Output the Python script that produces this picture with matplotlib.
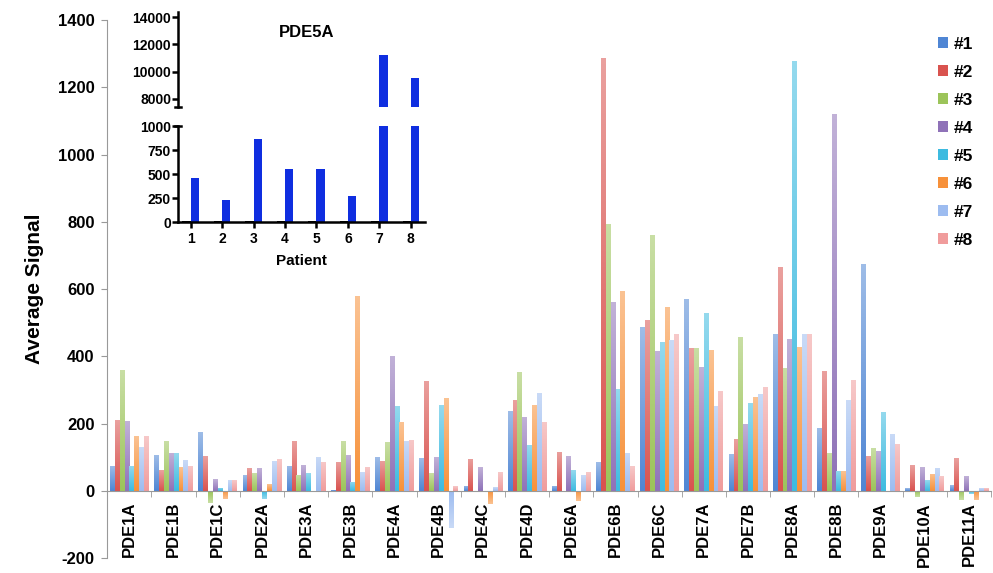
import matplotlib
matplotlib.use('Agg')
import matplotlib.pyplot as plt
import matplotlib.colors as mcolors
import numpy as np

plt.rcParams['font.family'] = ['Liberation Sans', 'DejaVu Sans']
plt.rcParams['font.weight'] = 'bold'
plt.rcParams['axes.unicode_minus'] = False

genes = ['PDE1A', 'PDE1B', 'PDE1C', 'PDE2A', 'PDE3A', 'PDE3B', 'PDE4A', 'PDE4B', 'PDE4C', 'PDE4D',
         'PDE6A', 'PDE6B', 'PDE6C', 'PDE7A', 'PDE7B', 'PDE8A', 'PDE8B', 'PDE9A', 'PDE10A', 'PDE11A']
patients = ['#1', '#2', '#3', '#4', '#5', '#6', '#7', '#8']

# one row per patient, one value per gene
p1 = [75, 106, 175, 46, 75, 3, 101, 97, 15, 236, 15, 86, 487, 571, 109, 465, 187, 675, 8, 16]
p2 = [210, 62, 104, 68, 149, 87, 90, 328, 96, 270, 117, 1286, 508, 424, 154, 665, 357, 105, 77, 97]
p3 = [358, 147, -35, 53, 48, 148, 144, 52, 1, 352, 1, 794, 761, 424, 458, 365, 112, 127, -17, -27]
p4 = [208, 114, 34, 68, 77, 108, 402, 101, 71, 221, 104, 562, 415, 367, 200, 452, 1122, 119, 71, 43]
p5 = [75, 114, 9, -23, 52, 27, 253, 255, -3, 135, 62, 304, 444, 528, 261, 1279, 60, 233, 32, -8]
p6 = [162, 71, -24, 20, -2, 578, 205, 276, -40, 256, -30, 594, 546, 419, 278, 428, 58, -2, 51, -27]
p7 = [130, 91, 31, 89, 102, 55, 149, -110, 11, 291, 46, 112, 450, 252, 289, 467, 270, 170, 69, 8]
p8 = [162, 75, 31, 94, 87, 72, 152, 13, 56, 206, 56, 74, 466, 298, 308, 467, 330, 139, 43, 8]
signal = [p1, p2, p3, p4, p5, p6, p7, p8]

colors = ['#4f86d4', '#d9534f', '#9cc45a', '#8f72b8', '#3dbbe0', '#f7913a', '#9dbcf0', '#f09c9c']

# inset: PDE5A per patient
inset_patients = [1, 2, 3, 4, 5, 6, 7, 8]
pde5a_ctrl = [8, 8, 8, 10, 10, 12, 12, 14]
pde5a_tumor = [458, 229, 865, 552, 552, 271, 11200, 9500]


def shade(ax, bars, color):
    # excel-like gradient: base colour at the root, paler towards the tip
    base = np.array(mcolors.to_rgb(color))
    t = np.linspace(0, 1, 64)[:, None]
    grad = base * (1 - 0.45 * t) + 0.45 * t
    for b in bars:
        x0, y0 = b.get_x(), b.get_y()
        h = b.get_height()
        if h == 0:
            continue
        ext = [x0, x0 + b.get_width(), y0, y0 + h]
        im = ax.imshow(grad[:, None, :], extent=ext, origin='lower', aspect='auto',
                       interpolation='bilinear', zorder=2)
        im.set_clip_path(b)
        b.set_alpha(0)


fig = plt.figure(figsize=(9.93, 5.73), dpi=100)
ax = fig.add_axes([0.108, 0.026, 0.89, 0.939])

x = np.arange(len(genes))
w = 0.11
for k in range(len(patients)):
    bars = ax.bar(x + (k - 3.5) * w, signal[k], width=w * 0.95, color=colors[k], label=patients[k], zorder=2)
    shade(ax, bars, colors[k])

ax.set_xlim(-0.5, len(genes) - 0.5)
ax.set_ylim(-200, 1400)
ax.set_yticks(np.arange(-200, 1401, 200))
ax.set_ylabel('Average Signal', fontsize=15, fontweight='bold', labelpad=10)
ax.set_xticks(x)
ax.set_xticks(np.arange(-0.5, len(genes), 1), minor=True)
ax.tick_params(axis='x', which='major', length=0, pad=8, labelrotation=90, labelsize=12)
ax.tick_params(axis='x', which='minor', length=4, color='#999999', direction='out')
ax.tick_params(axis='y', labelsize=12, length=4, color='#999999', pad=5)
ax.set_xticklabels(genes, fontweight='bold')
for lab in ax.get_yticklabels():
    lab.set_fontweight('bold')
ax.spines['bottom'].set_position(('data', 0))
ax.spines['bottom'].set_color('#999999')
ax.spines['left'].set_color('#999999')
ax.spines['top'].set_visible(False)
ax.spines['right'].set_visible(False)

leg = fig.legend(loc='upper left', bbox_to_anchor=(929 / 993, 1 - 28 / 573), frameon=False,
                 handlelength=0.6, handleheight=0.6, handletextpad=0.35, labelspacing=0.75,
                 prop={'size': 12.5, 'weight': 'bold'}, borderpad=0)
for h in leg.legend_handles:
    h.set_alpha(1)

# inset with broken axis
left, width = 178 / 993, 247 / 993
ax_hi = fig.add_axes([left, 1 - 107 / 573, width, 95 / 573])
ax_lo = fig.add_axes([left, 1 - 222 / 573, width, 96 / 573])
bw = 0.26
for a in (ax_hi, ax_lo):
    a.bar(np.array(inset_patients) - bw / 2, pde5a_ctrl, width=bw, color='black')
    a.bar(np.array(inset_patients) + bw / 2, pde5a_tumor, width=bw, color='#0f2ee0')
    a.set_xlim(0.6, 8.45)
    a.patch.set_alpha(0)
    a.spines['top'].set_visible(False)
    a.spines['right'].set_visible(False)
    a.spines['left'].set_linewidth(1.8)
    a.spines['bottom'].set_linewidth(1.8)
    a.tick_params(width=1.8, length=4, labelsize=10, pad=1)
    for lab in a.get_yticklabels() + a.get_xticklabels():
        lab.set_fontweight('bold')

ax_hi.set_ylim(7400, 14370)
ax_hi.set_yticks([8000, 10000, 12000, 14000])
ax_hi.spines['bottom'].set_visible(False)
ax_hi.set_xticks([])
ax_hi.plot([-0.012, 0.012], [0, 0], transform=ax_hi.transAxes, color='black', lw=1.8, clip_on=False)
ax_hi.text(0.41, 0.74, 'PDE5A', transform=ax_hi.transAxes, fontsize=12, fontweight='bold')

ax_lo.set_ylim(0, 1000)
ax_lo.set_yticks([0, 250, 500, 750, 1000])
ax_lo.set_xticks(inset_patients)
ax_lo.set_xticklabels([str(p) for p in inset_patients])
ax_lo.tick_params(axis='x', pad=3)
for lab in ax_lo.get_xticklabels():
    lab.set_fontweight('bold')
ax_lo.plot([-0.012, 0.012], [1, 1], transform=ax_lo.transAxes, color='black', lw=1.8, clip_on=False)
ax_lo.set_xlabel('Patient', fontsize=11, fontweight='bold', labelpad=6)

fig.savefig('out.png', dpi=100)
